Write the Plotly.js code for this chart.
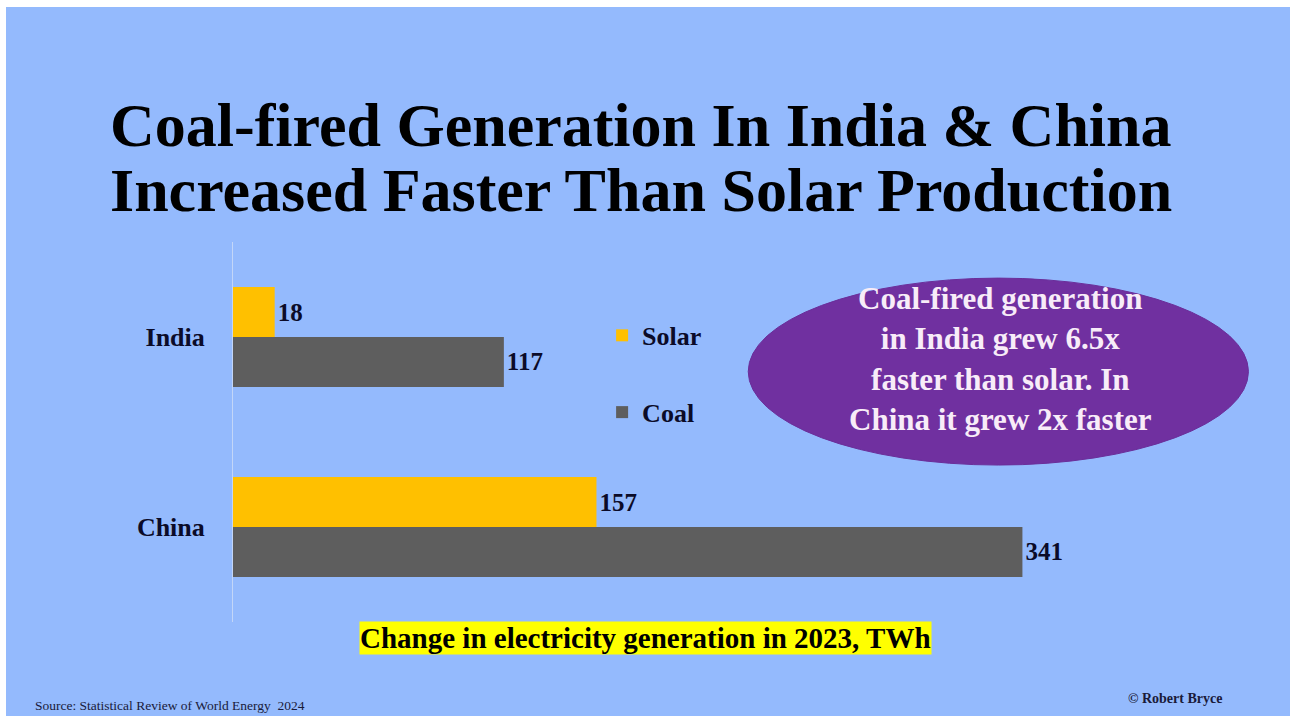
<!DOCTYPE html>
<html>
<head>
<meta charset="utf-8">
<script src="https://cdn.plot.ly/plotly-3.0.1.min.js"></script>
<style>
  html, body { margin: 0; padding: 0; background: #ffffff; width: 1290px; height: 716px; overflow: hidden; }
  #chart { position: absolute; left: 6px; top: 7px; width: 1284px; height: 709px; }
</style>
</head>
<body>
<div id="chart"></div>
<script>
// Data
const countries = ["India", "China"];
const solar = [18, 157];
const coal = [117, 341];
const seriesNames = ["Solar", "Coal"];
const titleLines = ["Coal-fired Generation In India & China", "Increased Faster Than Solar Production"];
const calloutText = "Coal-fired generation<br>in India grew 6.5x<br>faster than solar. In<br>China it grew 2x faster";
const subtitleText = "Change in electricity generation in 2023, TWh";
const sourceText = "Source: Statistical Review of World Energy  2024";
const creditText = "© Robert Bryce";

const serif = "Liberation Serif, Times New Roman, serif";
const dark = "#0b0b28";

const traces = [
  {
    type: "bar", orientation: "h", name: seriesNames[0], legendgroup: "g1",
    y: countries, x: solar,
    marker: { color: "#FFC000", line: { width: 0 } },
    text: solar.map(String), textposition: "outside", constraintext: "none", cliponaxis: false,
    textfont: { family: serif, size: 25, color: dark, weight: "bold" },
    hoverinfo: "x+name"
  },
  {
    type: "bar", orientation: "h", name: seriesNames[1], legendgroup: "g2",
    y: countries, x: coal,
    marker: { color: "#5E5E5E", line: { width: 0 } },
    text: coal.map(String), textposition: "outside", constraintext: "none", cliponaxis: false,
    textfont: { family: serif, size: 25, color: dark, weight: "bold" },
    hoverinfo: "x+name"
  }
];

const layout = {
  width: 1284, height: 709,
  paper_bgcolor: "#94BAFD", plot_bgcolor: "rgba(0,0,0,0)",
  margin: { l: 227, r: 131.4, t: 235, b: 94, pad: 0 },
  barmode: "group", bargap: 0.474, bargroupgap: 0,
  font: { family: serif, color: dark },
  xaxis: { range: [0, 400], visible: false, fixedrange: true },
  yaxis: {
    autorange: "reversed", showline: true, linecolor: "#C3D6F8", linewidth: 1,
    showgrid: false, zeroline: false, ticks: "", ticklabelstandoff: 22,
    tickfont: { family: serif, size: 26, color: dark, weight: "bold" }, fixedrange: true
  },
  showlegend: true,
  legend: {
    x: 0.3986, y: 0.816, xanchor: "left", yanchor: "top",
    bgcolor: "rgba(0,0,0,0)", borderwidth: 0,
    traceorder: "grouped", tracegroupgap: 40,
    font: { family: serif, size: 26, color: dark, weight: "bold" }
  },
  shapes: [
    { type: "circle", xref: "paper", yref: "paper", x0: 0.5564, x1: 1.0966, y0: 0.413, y1: 0.905,
      fillcolor: "#7030A0", line: { color: "#6A2E9A", width: 1 }, layer: "above" }
  ],
  annotations: [
    { text: titleLines[0], xref: "paper", yref: "paper", x: 0.4408, y: 1.308, xanchor: "center", yanchor: "middle",
      showarrow: false, font: { family: serif, size: 62, color: "#000000", weight: "bold" } },
    { text: titleLines[1], xref: "paper", yref: "paper", x: 0.4408, y: 1.136, xanchor: "center", yanchor: "middle",
      showarrow: false, font: { family: serif, size: 62, color: "#000000", weight: "bold" } },
    { text: calloutText, xref: "paper", yref: "paper", x: 0.8287, y: 0.692, xanchor: "center", yanchor: "middle",
      showarrow: false, align: "center", font: { family: serif, size: 31, color: "#F8ECF8", weight: "bold" } },
    { text: subtitleText, xref: "paper", yref: "paper", x: 0.445, y: -0.042, xanchor: "center", yanchor: "middle",
      showarrow: false, bgcolor: "#FFFF00", borderpad: 0, font: { family: serif, size: 29, color: "#000000", weight: "bold" } },
    { text: sourceText, xref: "paper", yref: "paper", x: -0.216, y: -0.221, xanchor: "left", yanchor: "middle",
      showarrow: false, font: { family: serif, size: 13.5, color: "#1a1a3a" } },
    { text: creditText, xref: "paper", yref: "paper", x: 1.0177, y: -0.2, xanchor: "center", yanchor: "middle",
      showarrow: false, font: { family: serif, size: 14, color: "#1a1a3a", weight: "bold" } }
  ]
};

Plotly.newPlot("chart", traces, layout, { displayModeBar: false, staticPlot: true });
</script>
</body>
</html>
